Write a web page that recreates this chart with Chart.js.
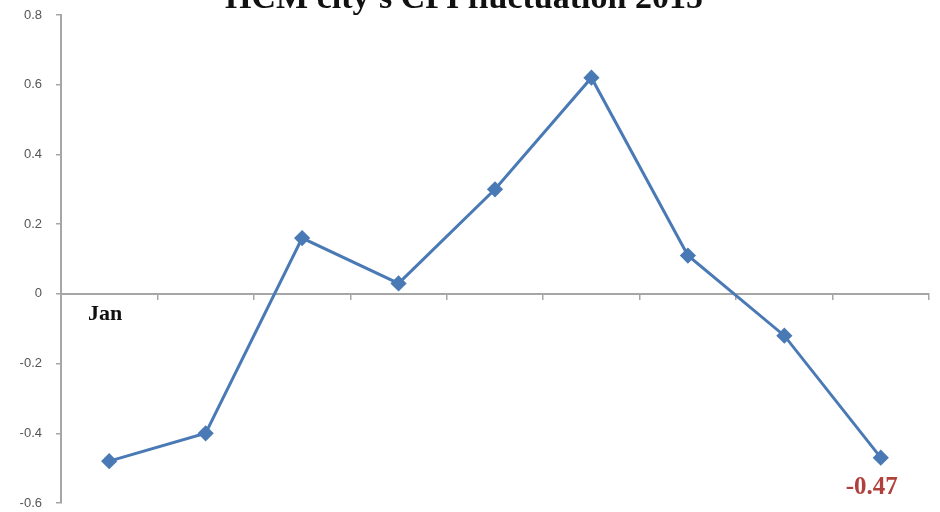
<!DOCTYPE html>
<html>
<head>
<meta charset="utf-8">
<script src="https://cdn.jsdelivr.net/npm/chart.js@4.4.1/dist/chart.umd.min.js"></script>
<style>
  html, body { margin: 0; padding: 0; background: #fff; }
  #wrap { position: relative; width: 940px; height: 512px; }
</style>
</head>
<body>
<div id="wrap"><canvas id="cpi" width="940" height="512"></canvas></div>
<script>
// Monthly CPI change (%) for Ho Chi Minh City, 2015
const months = ['Jan', '', '', '', '', '', '', '', ''];
const cpiChange = [-0.48, -0.40, 0.16, 0.03, 0.30, 0.62, 0.11, -0.12, -0.47];
const yTicks = [-0.6, -0.4, -0.2, 0, 0.2, 0.4, 0.6, 0.8];
const chartTitle = "HCM city's CPI fluctuation 2015";
const labelledIndex = 8; // point whose value is printed beneath it

const lineColor = '#4a7ab5';
const axisColor = '#a6a6a6';

// Title sits partly above the canvas edge
const titlePlugin = {
  id: 'topTitle',
  afterDraw(chart) {
    const ctx = chart.ctx;
    ctx.save();
    ctx.font = 'bold 34px "Liberation Serif", "Times New Roman", serif';
    ctx.fillStyle = '#111';
    ctx.textAlign = 'center';
    ctx.textBaseline = 'alphabetic';
    ctx.fillText(chartTitle, 464, 8);
    ctx.restore();
  }
};

// Value label under the chosen point
const valueLabelPlugin = {
  id: 'valueLabel',
  afterDatasetsDraw(chart) {
    const meta = chart.getDatasetMeta(0);
    const pt = meta.data[labelledIndex];
    const ctx = chart.ctx;
    ctx.save();
    ctx.font = 'bold 25px "Liberation Serif", "Times New Roman", serif';
    ctx.fillStyle = '#b0403c';
    ctx.textAlign = 'center';
    ctx.textBaseline = 'alphabetic';
    ctx.fillText(cpiChange[labelledIndex].toFixed(2), pt.x - 9, pt.y + 36);
    ctx.restore();
  }
};

new Chart(document.getElementById('cpi'), {
  type: 'line',
  data: {
    labels: months,
    datasets: [{
      data: cpiChange,
      borderColor: lineColor,
      backgroundColor: lineColor,
      borderWidth: 3,
      pointStyle: 'rectRot',
      pointRadius: 6,
      pointBackgroundColor: lineColor,
      pointBorderColor: lineColor,
      tension: 0,
      fill: false
    }]
  },
  options: {
    responsive: false,
    animation: false,
    layout: { padding: { top: 15, right: 11, bottom: 5, left: 0 } },
    plugins: {
      legend: { display: false },
      title: { display: false },
      tooltip: { enabled: false }
    },
    scales: {
      x: {
        type: 'category',
        position: { y: 0 },
        offset: true,
        afterFit(scale) {
          scale.height = 0;
          scale.paddingTop = 0; scale.paddingBottom = 0;
          scale.paddingLeft = 0; scale.paddingRight = 0;
        },
        grid: {
          display: true,
          drawOnChartArea: false,
          drawTicks: true,
          tickLength: 5,
          offset: true,
          color: axisColor,
          lineWidth: 1.5
        },
        border: { display: true, color: axisColor, width: 2 },
        ticks: {
          autoSkip: false,
          maxRotation: 0,
          padding: 2,
          labelOffset: -4,
          color: '#111',
          font: { family: '"Liberation Serif", "Times New Roman", serif', size: 22, weight: 'bold' }
        }
      },
      y: {
        min: -0.6,
        max: 0.8,
        afterFit(scale) {
          scale.width = 61;
          scale.paddingTop = 0; scale.paddingBottom = 0;
        },
        afterBuildTicks(scale) { scale.ticks = yTicks.map(v => ({ value: v })); },
        grid: {
          display: true,
          drawOnChartArea: false,
          drawTicks: true,
          tickLength: 5,
          color: axisColor,
          lineWidth: 1.5
        },
        border: { display: true, color: axisColor, width: 2 },
        ticks: {
          padding: 14,
          color: '#555',
          font: { family: '"Liberation Sans", Arial, sans-serif', size: 13, lineHeight: 1 },
          callback: v => (Math.round(v * 10) / 10).toString()
        }
      }
    }
  },
  plugins: [titlePlugin, valueLabelPlugin]
});
</script>
</body>
</html>
